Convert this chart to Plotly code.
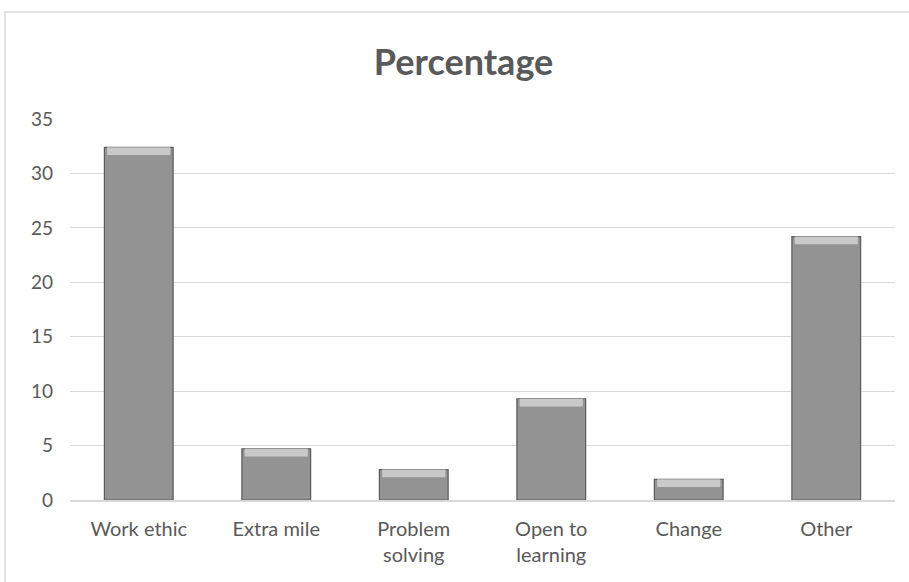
import plotly.graph_objects as go

categories = ["Work ethic", "Extra mile", "Problem<br>solving", "Open to<br>learning", "Change", "Other"]
percentages = [32.4, 4.7, 2.8, 9.3, 1.9, 24.2]
y_ticks = [0, 5, 10, 15, 20, 25, 30, 35]

_FAMILY = "Lato, Open Sans, sans-serif"
_GREY_TEXT = "#595959"
bevel = 0.7  # height of the light band on top of each bar

fig = go.Figure()

# main bar body
fig.add_trace(go.Bar(
    x=categories, y=percentages,
    marker=dict(color="#939393", line=dict(color="#5a5a5a", width=1.2)),
    width=0.5, hoverinfo="x+y",
))
# light bevel band at the top of each bar
fig.add_trace(go.Bar(
    x=categories, y=[bevel] * len(percentages),
    base=[v - bevel for v in percentages],
    marker=dict(color="#c9c9c9", line=dict(width=0)),
    width=0.46, hoverinfo="skip",
))

fig.update_layout(
    width=909, height=582,
    margin=dict(l=70, r=14, t=119, b=82),
    barmode="overlay",
    showlegend=False,
    plot_bgcolor="white", paper_bgcolor="white",
    font=dict(family=_FAMILY, color=_GREY_TEXT),
    title=dict(
        text="<b>Percentage</b>", x=0.51, xanchor="center",
        y=0.893, yanchor="middle",
        font=dict(size=36, color=_GREY_TEXT, family=_FAMILY),
    ),
    xaxis=dict(
        tickfont=dict(size=20, color=_GREY_TEXT),
        showline=True, linecolor="#d9d9d9", linewidth=1.5,
        ticks="", showgrid=False, ticklabelstandoff=10,
    ),
    yaxis=dict(
        range=[0, 35], tickvals=y_ticks,
        tickfont=dict(size=19, color=_GREY_TEXT),
        showgrid=True, gridcolor="#d9d9d9", gridwidth=1,
        zeroline=False, ticks="", ticklabelstandoff=16,
    ),
    shapes=[dict(
        type="rect", xref="paper", yref="paper",
        x0=-0.0788, x1=1.05, y0=-0.3, y1=1.281,
        line=dict(color="#d9d9d9", width=1.5), fillcolor="rgba(0,0,0,0)",
        layer="below",
    )],
)

fig.write_html(
    "out.html",
    config={"displayModeBar": False},
    post_script="document.body.style.margin='0';document.body.style.overflow='hidden';",
)
